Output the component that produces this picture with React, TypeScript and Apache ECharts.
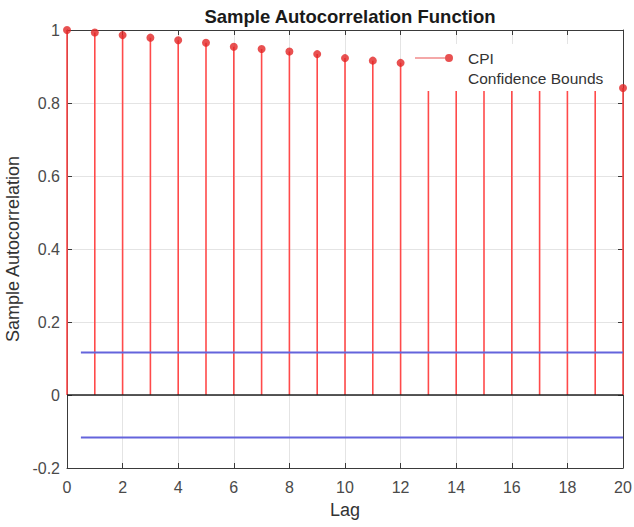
import React, { useEffect, useRef } from "react";
import * as echarts from "echarts";

const lags = [0, 1, 2, 3, 4, 5, 6, 7, 8, 9, 10, 11, 12, 13, 14, 15, 16, 17, 18, 19, 20];
const acf = [1.0, 0.993, 0.986, 0.979, 0.972, 0.965, 0.954, 0.948, 0.941, 0.934, 0.923, 0.916, 0.91, 0.901, 0.893, 0.884, 0.875, 0.867, 0.858, 0.85, 0.841];
const confBound = 0.1165;
const confStart = 0.5;
const confEnd = 20;
const yTicks = [-0.2, 0, 0.2, 0.4, 0.6, 0.8, 1];
const xTicks = [0, 2, 4, 6, 8, 10, 12, 14, 16, 18, 20];

const FONT = "'Liberation Sans', Arial, Helvetica, sans-serif";

export default function App() {
  const ref = useRef<HTMLDivElement>(null);
  useEffect(() => {
    if (!ref.current) return;
    const chart = echarts.init(ref.current, undefined, { renderer: "svg" });
    const stemData = lags.map((l, i) => [l, acf[i]]);
    const axisColor = "#3a3a3a";
    const labelColor = "#4a4a4a";
    const option: any = {
      animation: false,
      backgroundColor: "#ffffff",
      textStyle: { fontFamily: FONT },
      title: {
        text: "Sample Autocorrelation Function",
        left: 345,
        top: 2,
        textAlign: "center",
        textStyle: { fontFamily: FONT, fontSize: 18.5, fontWeight: "bold", color: "#1a1a1a" },
      },
      grid: { left: 67, right: 11, top: 30, bottom: 59, outerBoundsMode: "none", containLabel: false },
      legend: {
        orient: "vertical",
        left: 410,
        top: 44,
        padding: [6, 12, 5, 5],
        backgroundColor: "#ffffff",
        itemWidth: 48,
        itemHeight: 8,
        itemGap: 4,
        selectedMode: false,
        textStyle: { fontFamily: FONT, fontSize: 15.5, color: "#333333" },
        data: [
          {
            name: "CPI",
            icon: "path://M0,3.4 L34,3.4 L34,4.6 L0,4.6 Z M30,4 A4,4 0 1 1 38,4 A4,4 0 1 1 30,4 Z M48,0 L48,8",
          },
          { name: "Confidence Bounds", icon: "none" },
        ],
      },
      xAxis: [
        {
          type: "value",
          min: xTicks[0],
          max: xTicks[xTicks.length - 1],
          interval: 2,
          name: "Lag",
          nameLocation: "middle",
          nameGap: 33,
          nameTextStyle: { fontFamily: FONT, fontSize: 18, color: "#333333" },
          axisLine: { onZero: false, lineStyle: { color: axisColor, width: 1 } },
          axisTick: { inside: true, length: 5, lineStyle: { color: axisColor } },
          axisLabel: { fontFamily: FONT, fontSize: 16, color: labelColor, margin: 11 },
          splitLine: { show: true, lineStyle: { color: "#e4e4e4", width: 1 } },
        },
        {
          type: "value",
          position: "top",
          min: xTicks[0],
          max: xTicks[xTicks.length - 1],
          interval: 2,
          axisLine: { onZero: false, lineStyle: { color: axisColor, width: 1 } },
          axisTick: { inside: true, length: 5, lineStyle: { color: axisColor } },
          axisLabel: { show: false },
          splitLine: { show: false },
        },
      ],
      yAxis: [
        {
          type: "value",
          min: yTicks[0],
          max: yTicks[yTicks.length - 1],
          interval: 0.2,
          name: "Sample Autocorrelation",
          nameLocation: "middle",
          nameGap: 44,
          nameTextStyle: { fontFamily: FONT, fontSize: 18, color: "#333333" },
          axisLine: { show: true, onZero: false, lineStyle: { color: axisColor, width: 1 } },
          axisTick: { show: true, inside: true, length: 5, lineStyle: { color: axisColor } },
          axisLabel: { fontFamily: FONT, fontSize: 16, color: labelColor, margin: 7 },
          splitLine: { show: true, lineStyle: { color: "#e4e4e4", width: 1 } },
        },
        {
          type: "value",
          position: "right",
          min: yTicks[0],
          max: yTicks[yTicks.length - 1],
          interval: 0.2,
          axisLine: { show: true, onZero: false, lineStyle: { color: axisColor, width: 1 } },
          axisTick: { show: true, inside: true, length: 5, lineStyle: { color: axisColor } },
          axisLabel: { show: false },
          splitLine: { show: false },
        },
      ],
      series: [
        {
          name: "CPI",
          type: "scatter",
          data: stemData,
          symbol: "circle",
          symbolSize: 8,
          itemStyle: { color: "#e22626" },
          z: 3,
        },
        {
          name: "CPI",
          type: "custom",
          data: stemData,
          encode: { x: 0, y: 1 },
          z: 2,
          renderItem: (params: any, api: any) => {
            const x = api.value(0);
            const v = api.value(1);
            const p0 = api.coord([x, 0]);
            const p1 = api.coord([x, v]);
            return {
              type: "line",
              shape: { x1: p0[0], y1: p0[1], x2: p1[0], y2: p1[1] },
              style: { stroke: "#ff4a4a", lineWidth: 1.6 },
            };
          },
        },
        {
          name: "baseline",
          type: "line",
          data: [[xTicks[0], 0], [xTicks[xTicks.length - 1], 0]],
          symbol: "none",
          lineStyle: { color: "#202020", width: 1.6 },
          z: 2,
          silent: true,
        },
        {
          name: "Confidence Bounds",
          type: "line",
          data: [[confStart, confBound], [confEnd, confBound]],
          symbol: "none",
          itemStyle: { color: "#6464dc" },
          lineStyle: { color: "#6464dc", width: 2 },
          z: 2,
        },
        {
          name: "Confidence Bounds",
          type: "line",
          data: [[confStart, -confBound], [confEnd, -confBound]],
          symbol: "none",
          itemStyle: { color: "#6464dc" },
          lineStyle: { color: "#6464dc", width: 2 },
          z: 2,
        },
      ],
    };
    chart.setOption(option);
    return () => chart.dispose();
  }, []);
  return (
    <div
      ref={ref}
      style={{ position: "fixed", left: 0, top: 0, width: 634, height: 527, background: "#fff" }}
    />
  );
}
